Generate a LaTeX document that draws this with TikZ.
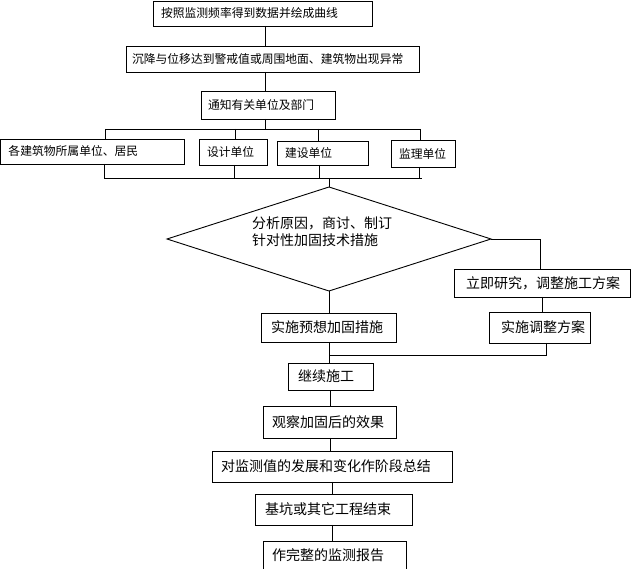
\documentclass[tikz,border=0pt]{standalone}
\usepackage{fontspec}
\newfontfamily\cjk{Noto Sans CJK SC}
\usetikzlibrary{shapes.geometric}
\tikzset{
  ln/.style={line width=0.9pt, draw=black},
  bx/.style={draw=black, line width=0.9pt, anchor=north west, inner ysep=0pt, outer sep=0pt, align=left},
  small/.style={font=\cjk\fontsize{11.8}{14}\selectfont},
  large/.style={font=\cjk\fontsize{14}{17}\selectfont},
}
\begin{document}
\begin{tikzpicture}[x=1pt,y=-1pt]
\useasboundingbox (0,0) rectangle (633,569);
% top boxes
\node[bx,small,inner xsep=8pt,minimum height=25pt] (b1) at (153,1) {\makebox[203pt][l]{按照监测频率得到数据并绘成曲线}};
\node[bx,small,inner xsep=6pt,minimum height=26pt] (b2) at (126,46) {\makebox[281pt][l]{沉降与位移达到警戒值或周围地面、建筑物出现异常}};
\node[bx,small,inner xsep=7pt,minimum height=28pt] (b3) at (201,91) {\makebox[120pt][l]{通知有关单位及部门}};
\node[bx,small,inner xsep=8pt,minimum height=25pt] (b4) at (0.5,139) {\makebox[167.5pt][l]{各建筑物所属单位、居民}};
\node[bx,small,inner xsep=8pt,minimum height=26pt] (b5) at (199,139) {\makebox[52pt][l]{设计单位}};
\node[bx,small,inner xsep=8pt,minimum height=24pt] (b6) at (277,141) {\makebox[75pt][l]{建设单位}};
\node[bx,small,inner xsep=8pt,minimum height=27pt] (b7) at (391,140) {\makebox[48pt][l]{监理单位}};
% diamond
\node[diamond, draw=black, line width=0.9pt, minimum width=324pt, minimum height=104pt, inner sep=0pt, outer sep=0pt] (d) at (329,239) {};
\node[large, anchor=west, inner sep=0pt, align=left] (dt) at (252,232) {分析原因，商讨、制订\\针对性加固技术措施};
% right branch
\node[bx,large,inner xsep=12pt,minimum height=28pt] (r1) at (454,269) {\makebox[152pt][l]{立即研究，调整施工方案}};
\node[bx,large,inner xsep=12pt,minimum height=31pt] (r2) at (489,312) {\makebox[77pt][l]{实施调整方案}};
% main line lower
\node[bx,large,inner xsep=10pt,minimum height=29pt] (l1) at (261,313) {\makebox[115pt][l]{实施预想加固措施}};
\node[bx,large,inner xsep=10pt,minimum height=27pt] (c1) at (288,363) {\makebox[65pt][l]{继续施工}};
\node[bx,large,inner xsep=9pt,minimum height=32pt] (c2) at (263,406) {\makebox[115pt][l]{观察加固后的效果}};
\node[bx,large,inner xsep=9pt,minimum height=31pt] (c3) at (212,451) {\makebox[222pt][l]{对监测值的发展和变化作阶段总结}};
\node[bx,large,inner xsep=10pt,minimum height=31pt] (c4) at (255,494) {\makebox[137pt][l]{基坑或其它工程结束}};
\node[bx,large,inner xsep=9pt,minimum height=29pt] (c5) at (263,541) {\makebox[125pt][l]{作完整的监测报告}};
% spines
\coordinate (sp) at (265.5,0);
\draw[ln] (b1.south -| sp) -- (b2.north -| sp);
\draw[ln] (b2.south -| sp) -- (b3.north -| sp);
% top bus
\coordinate (tL) at (105,129);
\coordinate (tR) at (420,129);
\coordinate (t5) at (235,129);
\coordinate (t6) at (318,129);
\draw[ln] (b3.south -| sp) -- (tL -| sp);
\draw[ln] (tL) -- (tR);
\draw[ln] (tL) -- (tL |- b4.north);
\draw[ln] (t5) -- (t5 |- b5.north);
\draw[ln] (t6) -- (t6 |- b6.north);
\draw[ln] (tR) -- (tR |- b7.north);
% bottom bus
\coordinate (uL) at (104,178);
\coordinate (uR) at (422,178);
\coordinate (u5) at (234,178);
\coordinate (u6) at (319,178);
\coordinate (u7) at (419,178);
\draw[ln] (uL) -- (uR);
\draw[ln] (uL |- b4.south) -- (uL);
\draw[ln] (u5 |- b5.south) -- (u5);
\draw[ln] (u6 |- b6.south) -- (u6);
\draw[ln] (u7 |- b7.south) -- (u7);
\draw[ln] (d.north |- uL) -- (d.north);
% right branch
\coordinate (rx) at (540,0);
\coordinate (rx2) at (542,0);
\coordinate (rx3) at (546,0);
\coordinate (join) at (329,355);
\draw[ln] (d.east) -| (r1.north -| rx);
\draw[ln] (r1.south -| rx2) -- (r2.north -| rx2);
\draw[ln] (r2.south -| rx3) |- (join);
% lower spine
\coordinate (sq) at (329,0);
\coordinate (sr) at (330,0);
\coordinate (ss) at (332.5,0);
\draw[ln] (d.south) -- (l1.north -| d.south);
\draw[ln] (l1.south -| sq) -- (c1.north -| sq);
\draw[ln] (c1.south -| sr) -- (c2.north -| sr);
\draw[ln] (c2.south -| sr) -- (c3.north -| sr);
\draw[ln] (c3.south -| ss) -- (c4.north -| ss);
\draw[ln] (c4.south -| ss) -- (c5.north -| ss);
\end{tikzpicture}
\end{document}
